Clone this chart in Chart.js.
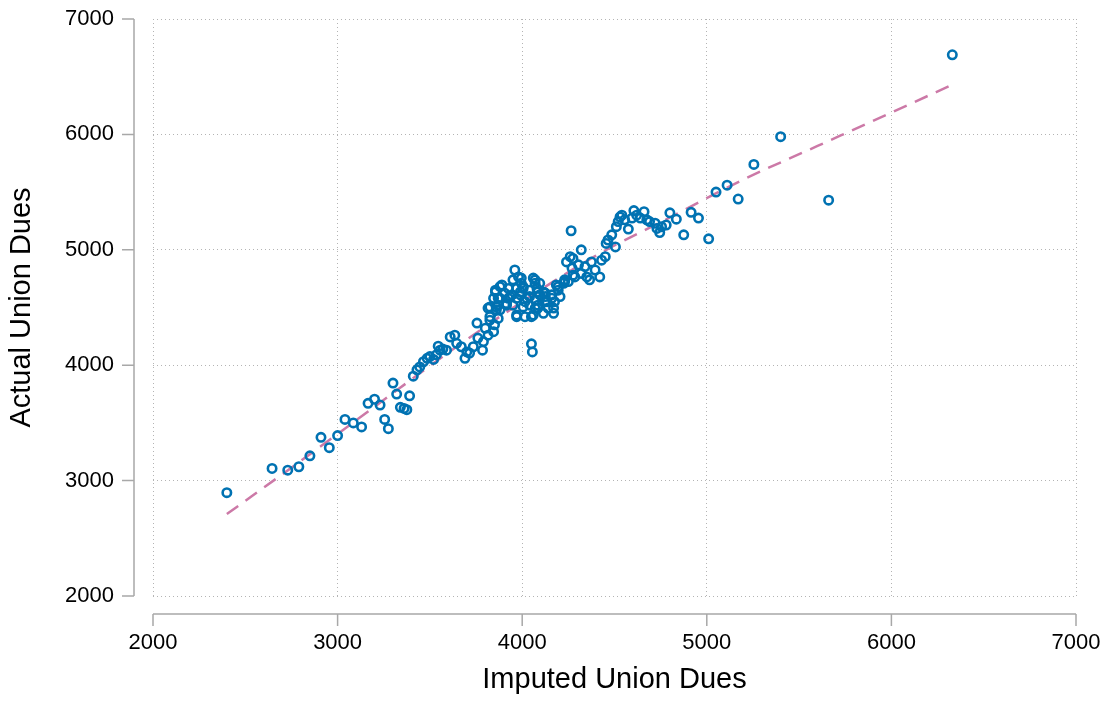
<!DOCTYPE html>
<html>
<head>
<meta charset="utf-8">
<script src="https://cdn.jsdelivr.net/npm/chart.js@4/dist/chart.umd.min.js"></script>
<style>
  html, body { margin: 0; padding: 0; background: #ffffff; }
  #wrap { width: 1109px; height: 702px; }
</style>
</head>
<body>
<div id="wrap"><canvas id="c" width="1109" height="702"></canvas></div>
<script>
// ---- Data ----
const imputedDues = [
  2400, 2645, 2730, 2790, 2850, 2910, 2955, 3000, 3040, 3085, 3130, 3165, 3200, 3230, 3255, 3275,
  3300, 3320, 3340, 3360, 3375, 3390, 3410, 3430, 3445, 3465, 3485, 3500, 3520, 3535, 3555, 3570,
  3590, 3545, 3610, 3635, 3645, 3670, 3690, 3700, 3715, 3735, 3755, 3760, 3785, 3790, 3800, 3815,
  3825, 3845, 3850, 3870, 3860, 3880, 3815, 3825, 3855, 3870, 3890, 3905, 3915, 3935, 3950, 3960,
  3970, 3980, 3990, 3995, 4005, 3970, 4015, 4040, 4060, 4070, 4080, 4050, 4070, 4085, 4095, 4115,
  4125, 4140, 4160, 4170, 4175, 4205, 4225, 4250, 4240, 4270, 4275, 4050, 4055,
  3995, 4070, 3880, 3855, 3945, 3990, 4040, 4085, 3845, 3880, 3925, 3970, 4025, 4070, 4125, 3825,
  3870, 3915, 3950, 4005, 4040, 4085, 3860, 3970, 4015, 4060, 4115, 4160, 4195, 4230, 4185, 3925, 4005,
  4095, 4125, 4135, 4170, 4195, 4230, 4260, 4265, 4275, 4285, 4305, 4320, 4320, 4340, 4350, 4365,
  4375, 4395, 4420, 4430, 4450, 4455, 4465, 4485, 4505, 4510, 4520, 4530, 4540, 4555, 4575, 4595,
  4605, 4620, 4640, 4660, 4675, 4690, 4720, 4730, 4745, 4755, 4780, 4800, 4835, 4875, 4915, 4955,
  5010, 5050, 5110, 5170, 5255, 5400, 5660, 6330
];
const actualDues = [
  2895, 3105, 3090, 3120, 3215, 3375, 3285, 3390, 3530, 3500, 3465, 3670, 3705, 3655, 3530, 3450,
  3845, 3750, 3635, 3625, 3615, 3735, 3905, 3960, 3985, 4030, 4060, 4075, 4050, 4090, 4130, 4140,
  4130, 4165, 4245, 4260, 4190, 4160, 4060, 4115, 4105, 4160, 4365, 4235, 4130, 4205, 4320, 4260,
  4390, 4290, 4350, 4405, 4505, 4480, 4495, 4420, 4650, 4580, 4695, 4625, 4535, 4595, 4740, 4825,
  4665, 4765, 4610, 4710, 4665, 4420, 4550, 4595, 4755, 4710, 4665, 4420, 4495, 4520, 4610, 4635,
  4550, 4495, 4610, 4450, 4550, 4595, 4710, 4725, 4895, 4840, 4780, 4185, 4115,
  4755, 4740, 4680, 4635, 4610, 4635, 4650, 4635, 4580, 4580, 4580, 4580, 4580, 4565, 4595, 4505,
  4520, 4520, 4520, 4505, 4520, 4495, 4480, 4435, 4420, 4435, 4450, 4580, 4650, 4725, 4695, 4665, 4680,
  4710, 4625, 4550, 4495, 4680, 4740, 4940, 5165, 4925, 4765, 4870, 5000, 4795, 4855, 4765, 4740,
  4895, 4825, 4765, 4910, 4940, 5055, 5085, 5130, 5025, 5200, 5245, 5285, 5300, 5260, 5180, 5275,
  5340, 5300, 5275, 5330, 5260, 5245, 5230, 5185, 5150, 5200, 5215, 5320, 5265, 5130, 5325, 5275,
  5095, 5500, 5560, 5440, 5740, 5980, 5430, 6690
];
// fitted curve
const fitX = [2400, 2800, 3200, 3600, 4000, 4400, 4800, 5200, 5600, 6000, 6330];
const fitY = [2710, 3170, 3640, 4110, 4550, 4950, 5280, 5610, 5900, 6190, 6430];
const tickValues = [2000, 3000, 4000, 5000, 6000, 7000];
const xTitle = 'Imputed Union Dues';
const yTitle = 'Actual Union Dues';

// ---- Build chart ----
const scatterPts = imputedDues.map((v, i) => ({ x: v, y: actualDues[i] }));
const fitPts = fitX.map((v, i) => ({ x: v, y: fitY[i] }));

const AXIS_COLOR = '#a8a8a8';
const GRID_COLOR = '#b4b4b4';
const FONT = '"Liberation Sans", Arial, sans-serif';

const offsetAxes = {
  id: 'offsetAxes',
  afterDraw(chart) {
    const { ctx, chartArea, scales: { x, y } } = chart;
    ctx.save();
    ctx.strokeStyle = AXIS_COLOR;
    ctx.lineWidth = 1.5;
    ctx.setLineDash([]);
    const ax = chartArea.left - 19;
    const ay = chartArea.bottom + 18;
    const tl = 12;
    ctx.beginPath();
    ctx.moveTo(ax, y.getPixelForValue(y.max));
    ctx.lineTo(ax, y.getPixelForValue(y.min));
    tickValues.forEach(v => {
      const py = y.getPixelForValue(v);
      ctx.moveTo(ax - tl, py); ctx.lineTo(ax, py);
    });
    ctx.moveTo(x.getPixelForValue(x.min), ay);
    ctx.lineTo(x.getPixelForValue(x.max), ay);
    tickValues.forEach(v => {
      const px = x.getPixelForValue(v);
      ctx.moveTo(px, ay); ctx.lineTo(px, ay + tl);
    });
    ctx.stroke();
    ctx.restore();
  }
};

function zeroPad(scale) {
  scale.paddingTop = 0; scale.paddingBottom = 0;
  scale.paddingLeft = 0; scale.paddingRight = 0;
}

new Chart(document.getElementById('c'), {
  type: 'scatter',
  data: {
    datasets: [
      {
        label: 'Actual',
        data: scatterPts,
        pointStyle: 'circle',
        pointRadius: 4.2,
        pointHoverRadius: 4.2,
        pointBorderWidth: 2.6,
        pointBorderColor: '#0072b2',
        pointBackgroundColor: 'rgba(255,255,255,0)',
        showLine: false,
        order: 1
      },
      {
        label: 'Fitted',
        data: fitPts,
        showLine: true,
        pointRadius: 0,
        borderColor: '#cc79a7',
        borderWidth: 2.5,
        borderDash: [14, 9],
        tension: 0.4,
        cubicInterpolationMode: 'monotone',
        fill: false,
        order: 2
      }
    ]
  },
  options: {
    responsive: false,
    animation: false,
    devicePixelRatio: 1,
    layout: { autoPadding: false, padding: { top: 19, right: 33, bottom: 0, left: 0 } },
    plugins: {
      legend: { display: false },
      tooltip: { enabled: false }
    },
    scales: {
      x: {
        type: 'linear',
        min: 2000, max: 7000,
        afterBuildTicks(scale) { scale.ticks = tickValues.map(v => ({ value: v })); },
        afterFit(scale) { scale.height = 106; zeroPad(scale); },
        grid: { color: GRID_COLOR, lineWidth: 1, drawTicks: false },
        border: { display: false, dash: [1, 3] },
        ticks: { color: '#000', font: { family: FONT, size: 22 }, padding: 34, maxRotation: 0,
                 callback: v => String(v) },
        title: { display: true, text: xTitle, color: '#000', font: { family: FONT, size: 29 }, padding: { top: 0, bottom: 4.5 } }
      },
      y: {
        type: 'linear',
        min: 2000, max: 7000,
        afterBuildTicks(scale) { scale.ticks = tickValues.map(v => ({ value: v })); },
        afterFit(scale) { scale.width = 153; zeroPad(scale); },
        grid: { color: GRID_COLOR, lineWidth: 1, drawTicks: false },
        border: { display: false, dash: [1, 3] },
        ticks: { color: '#000', font: { family: FONT, size: 22 }, padding: 39,
                 callback: v => String(v) },
        title: { display: true, text: yTitle, color: '#000', font: { family: FONT, size: 29 }, padding: { top: 4.5, bottom: 0 } }
      }
    }
  },
  plugins: [offsetAxes]
});
</script>
</body>
</html>
